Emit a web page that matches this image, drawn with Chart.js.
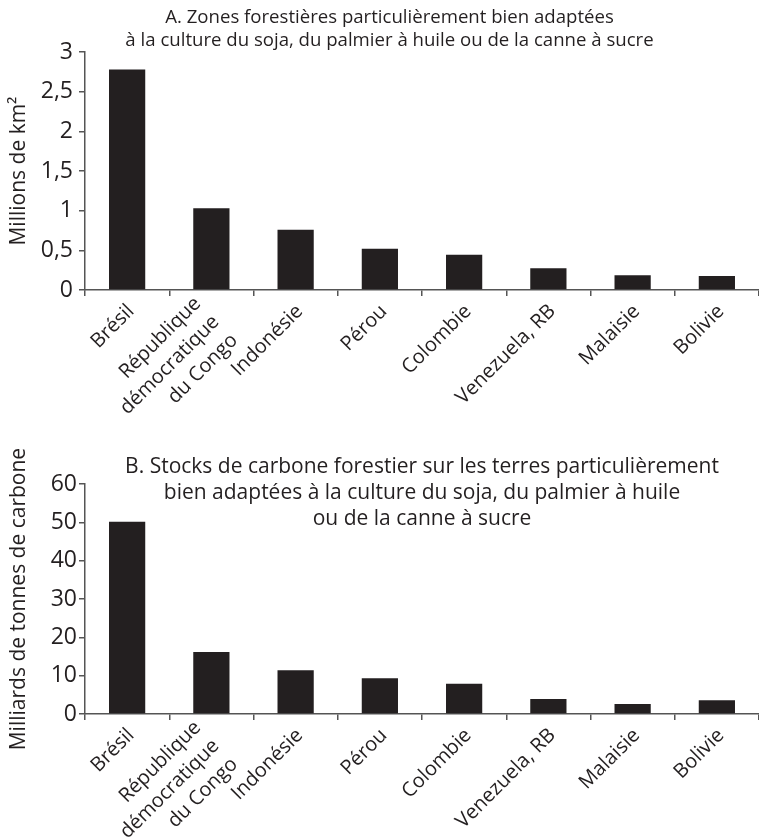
<!DOCTYPE html>
<html lang="fr">
<head>
<meta charset="utf-8">
<title>Zones forestières et stocks de carbone</title>
<script src="https://cdn.jsdelivr.net/npm/chart.js@4.4.1/dist/chart.umd.min.js"></script>
<style>
    body { margin: 0; background: #fff; }
    .panel { position: relative; width: 759px; }
    #panelA { height: 424px; }
    #panelB { height: 414px; }
</style>
</head>
<body>
<div class="panel" id="panelA"><canvas id="forestChart"></canvas></div>
<div class="panel" id="panelB"><canvas id="carbonChart"></canvas></div>
<script>
// --- Data ---
const countries = [
    'Brésil',
    ['République', 'démocratique', 'du Congo'],
    'Indonésie',
    'Pérou',
    'Colombie',
    'Venezuela, RB',
    'Malaisie',
    'Bolivie'
];
// millions de km²
const forestArea = [2.78, 1.03, 0.76, 0.52, 0.445, 0.275, 0.185, 0.175];
// milliards de tonnes de carbone
const carbonStock = [50.2, 16.2, 11.4, 9.3, 7.9, 3.9, 2.6, 3.6];

const forestTicks = { min: 0, max: 3, step: 0.5 };
const carbonTicks = { min: 0, max: 60, step: 10 };

const titleA = [
    'A. Zones forestières particulièrement bien adaptées',
    'à la culture du soja, du palmier à huile ou de la canne à sucre'
];
const titleB = [
    'B. Stocks de carbone forestier sur les terres particulièrement',
    'bien adaptées à la culture du soja, du palmier à huile',
    'ou de la canne à sucre'
];

const INK = '#231f20';
const AXIS = '#555555';
const FONT = "'Open Sans', 'Noto Sans', sans-serif";

Chart.defaults.color = INK;
Chart.defaults.font.family = FONT;

// Rotated multi-line category labels: pull the block up so it sits
// around the tick instead of hanging below it
const centreMultiline = {
    id: 'centreMultiline',
    beforeDraw(chart) {
        const scale = chart.scales.x;
        scale.getLabelItems().forEach(item => {
            if (!Array.isArray(item.label) || item._centred) return;
            const lh = item.font.lineHeight;
            item.textOffset -= lh * (item.label.length - 1) / 2 - 8;
            const t = item.options && item.options.translation;
            if (t) { t[0] -= 5; t[1] += 5; }
            item._centred = true;
        });
    }
};

// shared bar chart builder, layout tuned per panel
function buildChart(canvasId, values, range, yTitle, title, layout) {
    const ctx = document.getElementById(canvasId);
    return new Chart(ctx, {
        type: 'bar',
        data: {
            labels: countries,
            datasets: [{
                data: values,
                backgroundColor: INK,
                borderWidth: 0,
                barPercentage: 0.43,
                categoryPercentage: 1
            }]
        },
        plugins: [centreMultiline],
        options: {
            responsive: true,
            maintainAspectRatio: false,
            animation: false,
            layout: { padding: { left: layout.padLeft, top: 0, right: 0, bottom: 0 } },
            plugins: {
                legend: { display: false },
                tooltip: { enabled: false },
                title: {
                    display: true,
                    text: title,
                    fullSize: layout.titleFullSize,
                    color: INK,
                    font: { family: FONT, size: layout.titleSize, weight: 'normal', lineHeight: layout.titleLine },
                    padding: { top: layout.titleTop, bottom: layout.titleBottom }
                }
            },
            scales: {
                x: {
                    offset: true,
                    border: { display: true, color: AXIS, width: 1.5 },
                    grid: {
                        offset: true,
                        drawOnChartArea: false,
                        drawTicks: true,
                        tickLength: 6,
                        color: AXIS,
                        lineWidth: 1.5
                    },
                    ticks: {
                        autoSkip: false,
                        maxRotation: 45,
                        minRotation: 45,
                        padding: 3,
                        labelOffset: 4,
                        color: INK,
                        font: { family: FONT, size: 20, lineHeight: 1.3 }
                    },
                    afterFit: (scale) => { scale.height = layout.xHeight; }
                },
                y: {
                    min: range.min,
                    max: range.max,
                    border: { display: true, color: AXIS, width: 1.5 },
                    grid: {
                        drawOnChartArea: false,
                        tickLength: 6,
                        color: AXIS,
                        lineWidth: 1.5
                    },
                    ticks: {
                        stepSize: range.step,
                        padding: layout.yPad,
                        color: INK,
                        font: { family: FONT, size: 23 },
                        callback: (v) => String(v).replace('.', ',')
                    },
                    title: {
                        display: true,
                        text: yTitle,
                        color: INK,
                        font: { family: FONT, size: 21, lineHeight: 1.2 },
                        padding: { top: 6 - layout.padLeft, bottom: 0 }
                    },
                    afterFit: (scale) => { scale.width = 85 - layout.padLeft; }
                }
            }
        }
    });
}

buildChart('forestChart', forestArea, forestTicks, 'Millions de km²', titleA, {
    padLeft: 20, titleFullSize: true, titleSize: 18.6, titleLine: 1.24,
    titleTop: 6, titleBottom: 0, xHeight: 134, yPad: 6
});

buildChart('carbonChart', carbonStock, carbonTicks, 'Milliards de tonnes de carbone', titleB, {
    padLeft: 0, titleFullSize: false, titleSize: 21, titleLine: 1.24,
    titleTop: 30, titleBottom: -48, xHeight: 124, yPad: 2
});
</script>
</body>
</html>
